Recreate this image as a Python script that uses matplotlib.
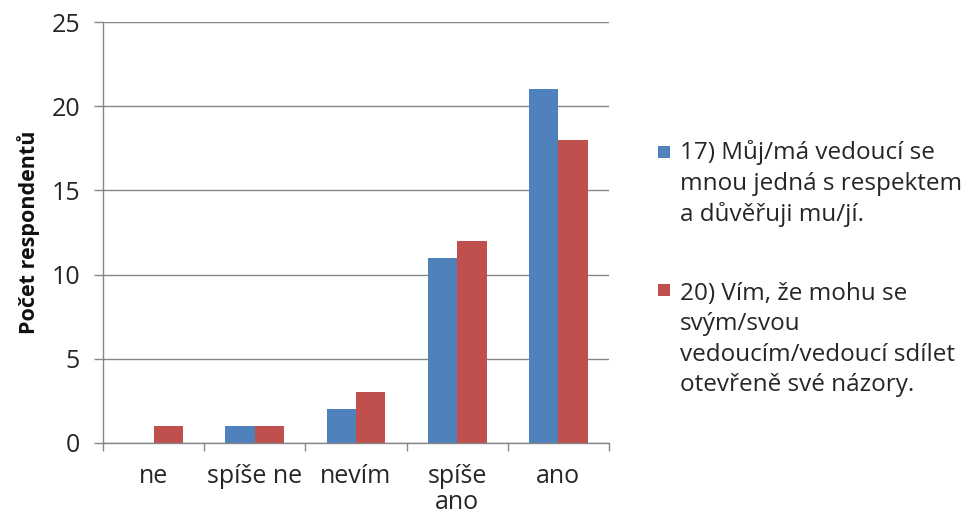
import matplotlib
matplotlib.use("Agg")
import matplotlib.pyplot as plt
from matplotlib.patches import Rectangle
import numpy as np

categories = ["ne", "spíše ne", "nevím", "spíše\nano", "ano"]
series_names = ["17) Můj/má vedoucí se\nmnou jedná s respektem\na důvěřuji mu/jí.",
                "20) Vím, že mohu se\nsvým/svou\nvedoucím/vedoucí sdílet\notevřeně své názory."]
values_17 = [0, 1, 2, 11, 21]
values_20 = [1, 1, 3, 12, 18]
colors = ["#4F81BD", "#C0504D"]
yticks = [0, 5, 10, 15, 20, 25]
ylabel = "Počet respondentů"

plt.rcParams['font.family'] = ['Open Sans', 'DejaVu Sans']

fig = plt.figure(figsize=(9.7, 5.15), dpi=100)
W, H = 970, 515
ax = fig.add_axes([103 / W, 1 - 443 / H, 506 / W, 421 / H])

x = np.arange(len(categories))
bw = 0.29
ax.bar(x - bw / 2, values_17, width=bw, color=colors[0], zorder=3)
ax.bar(x + bw / 2, values_20, width=bw, color=colors[1], zorder=3)

txtcol = "#262626"
ax.set_xlim(-0.5, len(categories) - 0.5)
ax.set_ylim(0, 25)
ax.set_yticks(yticks)
ax.set_yticklabels([str(v) for v in yticks], fontsize=18, color=txtcol)
ax.set_xticks(x)
ax.set_xticklabels(categories, fontsize=18, color=txtcol, linespacing=1.05)
ax.set_xticks(np.arange(len(categories) + 1) - 0.5, minor=True)
ax.tick_params(axis='x', which='major', length=0, pad=15)
ax.tick_params(axis='x', which='minor', length=5.5, color="#868686", width=1)
ax.tick_params(axis='y', length=6.5, color="#868686", width=1, pad=10)

ax.grid(axis='y', color="#868686", linewidth=1, zorder=0)
for s in ["top", "right"]:
    ax.spines[s].set_visible(False)
for s in ["left", "bottom"]:
    ax.spines[s].set_color("#868686")
    ax.spines[s].set_linewidth(1)
    ax.spines[s].set_zorder(4)

ax.set_ylabel(ylabel, fontsize=15.5, fontweight='bold', color="#111111")
ax.yaxis.set_label_coords((40 - 103) / 506, 0.5)

# legend
sq = 12
line_centers = [152, 290]
line_step = 31.7
for name, col, yc in zip(series_names, colors, line_centers):
    fig.patches.append(Rectangle((658 / W, 1 - (yc + sq / 2) / H), sq / W, sq / H,
                                 transform=fig.transFigure, facecolor=col,
                                 edgecolor='none'))
    n_lines = name.count("\n") + 1
    last_baseline = yc + 6 + (n_lines - 1) * line_step
    fig.text(680 / W, 1 - last_baseline / H, name, fontsize=17.5, va='baseline',
             ha='left', color=txtcol, linespacing=1.36)

fig.savefig("out.png", dpi=100)
